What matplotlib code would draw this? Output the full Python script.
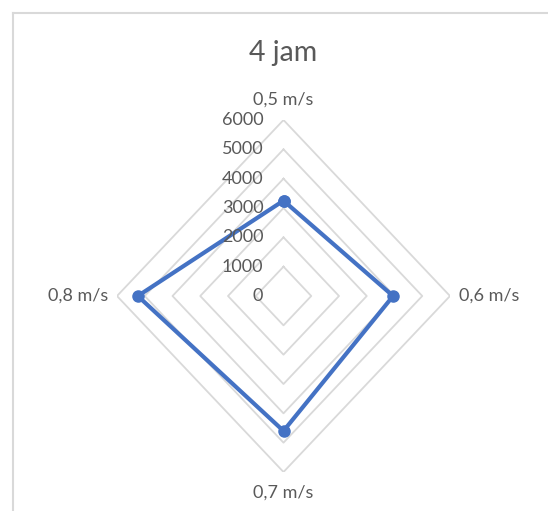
import numpy as np
import matplotlib.pyplot as plt
from matplotlib.lines import Line2D

plt.rcParams['font.family'] = ['Lato', 'DejaVu Sans']

# speeds around the radar (clockwise from top) and their values
categories = ["0,5 m/s", "0,6 m/s", "0,7 m/s", "0,8 m/s"]
values = [3250, 3950, 4600, 5250]
ticks = [0, 1000, 2000, 3000, 4000, 5000, 6000]
rmax = 6000

grid_color = "#D9D9D9"
text_color = "#595959"
line_color = "#4472C4"

W, H = 548, 511
fig = plt.figure(figsize=(W / 100, H / 100), dpi=100)

# center and radius of the plot in pixels
cx, cy = 283.5, 296
rx, ry = 166.5, 176
ax = fig.add_axes([(cx - rx) / W, 1 - (cy + ry) / H, 2 * rx / W, 2 * ry / H])
ax.set_xlim(-rmax, rmax)
ax.set_ylim(-rmax, rmax)
ax.axis("off")

theta = np.arange(len(categories)) * 2 * np.pi / len(categories)
sx, sy = np.sin(theta), np.cos(theta)

# diamond grid
for t in ticks[1:]:
    ax.plot(np.append(sx, sx[0]) * t, np.append(sy, sy[0]) * t,
            color=grid_color, lw=1.3, zorder=1)

# series
v = np.array(values)
ax.plot(np.append(sx * v, sx[0] * v[0]), np.append(sy * v, sy[0] * v[0]),
        color=line_color, lw=3.0, marker="o", markersize=8,
        solid_joinstyle="round", zorder=3)

# radial tick labels along the top spoke
for t in ticks:
    ax.annotate(str(t), (0, t), xytext=(-14.5, 0), textcoords="offset points",
                ha="right", va="center", fontsize=13, color=text_color)

# category labels
offsets = [(0, 9, "center", "bottom"), (6.5, 0, "left", "center"),
           (0, -9, "center", "top"), (-6.5, 0, "right", "center")]
for name, x, y, (dx, dy, ha, va) in zip(categories, sx * rmax, sy * rmax, offsets):
    ax.annotate(name, (x, y), xytext=(dx, dy), textcoords="offset points",
                ha=ha, va=va, fontsize=13, color=text_color)

fig.text(cx / W, 1 - 53 / H, "4 jam", ha="center", va="center",
         fontsize=20.5, color=text_color)

# chart area border
fig.add_artist(Line2D([12.5 / W, 1], [1 - 13.5 / H, 1 - 13.5 / H],
                      color=grid_color, lw=1.5))
fig.add_artist(Line2D([12.5 / W, 12.5 / W], [0, 1 - 13.5 / H],
                      color=grid_color, lw=1.5))

fig.savefig("out.png", dpi=100)
